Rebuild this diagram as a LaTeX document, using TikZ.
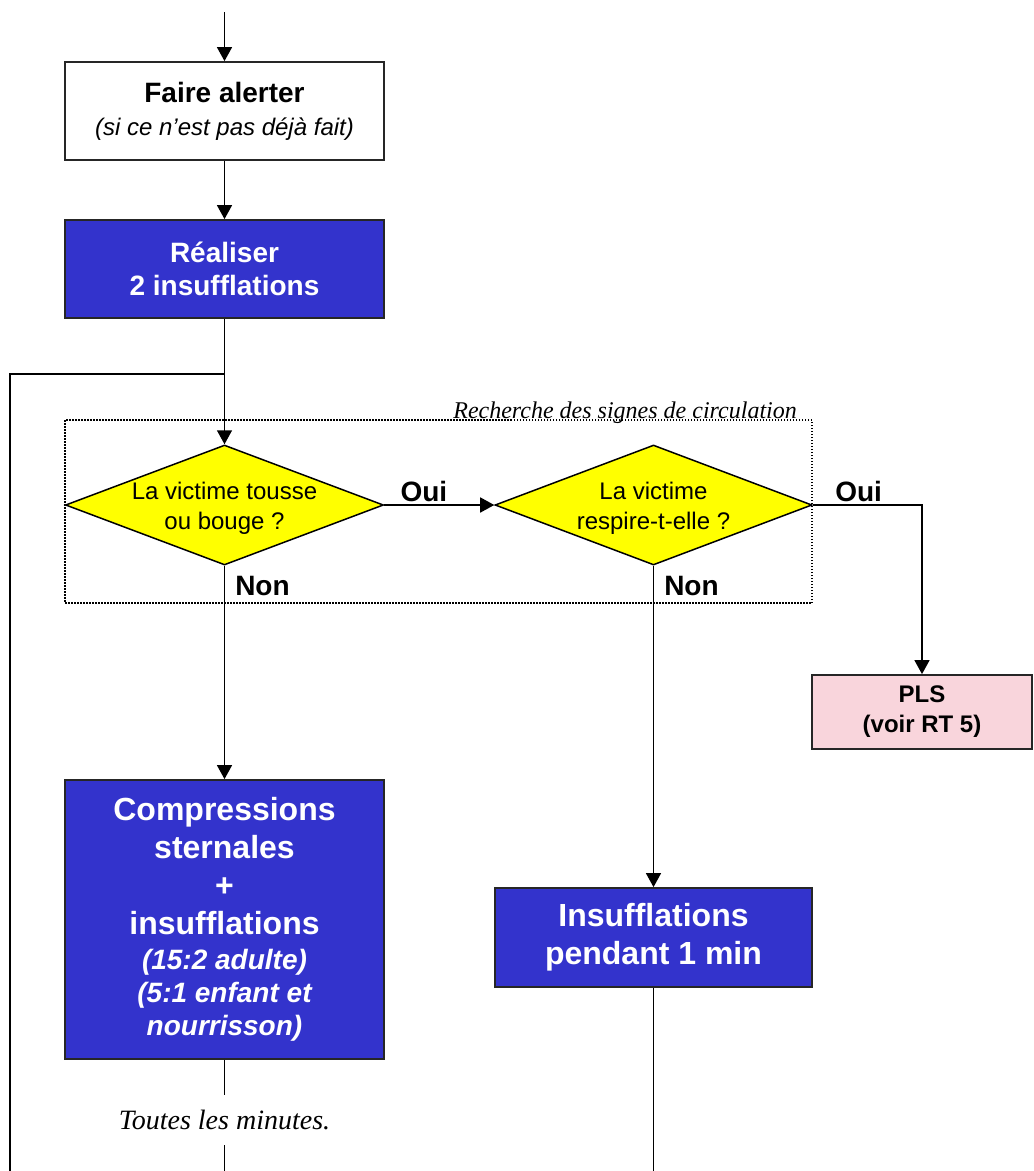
\documentclass[tikz,border=0pt]{standalone}
\usepackage{fontspec}
\setmainfont{Liberation Sans}
\newfontfamily\timesfont{Liberation Serif}
\usepackage{tikz}
\usetikzlibrary{shapes.geometric, arrows.meta, positioning}

\definecolor{bleuact}{RGB}{51,51,204}
\definecolor{jaunequest}{RGB}{255,255,0}
\definecolor{rosepls}{RGB}{249,213,220}
\newcommand{\detailtxt}[1]{{\itshape\fontsize{28}{34}\selectfont #1}}

\begin{document}
\begin{tikzpicture}[
        x=1pt, y=-1pt,
        actbox/.style={
            rectangle, draw=black!85, line width=1.8pt, fill=white,
            minimum width=319pt, minimum height=98pt,
            align=center, inner sep=0pt,
            font=\fontsize{28}{33}\selectfont\bfseries
        },
        bluebox/.style={actbox, fill=bleuact, text=white},
        question/.style={
            diamond, draw=black, line width=1.5pt, fill=jaunequest,
            minimum width=318pt, minimum height=120pt, inner sep=0pt
        },
        qtext/.style={align=center, font=\fontsize{24}{30}\selectfont},
        rep/.style={font=\fontsize{28}{34}\selectfont\bfseries, inner sep=2pt},
        fleche/.style={line width=1.5pt, -{Triangle[length=14pt, width=15pt]}},
        trait/.style={line width=1.5pt},
        comment/.style={font=\timesfont\itshape\fontsize{24}{28}\selectfont}
    ]
        \useasboundingbox (0,0) rectangle (1034,1171);

        % actions du haut
        \coordinate (debut) at (224.5,12);
        \node[actbox] (alerte) at (224.5,111) {
            Faire alerter\\
            {\mdseries\itshape\fontsize{24}{30}\selectfont (si ce n’est pas déjà fait)}
        };
        \node[bluebox] (insuf2) at (224.5,269) {Réaliser\\2 insufflations};

        % boucle de retour
        \coordinate (jonction) at (224.5,374);
        \coordinate (coinG) at (10,374);
        \coordinate (basG) at (10,1171);
        \draw[line width=2.5pt] (basG) -- (coinG) -- (jonction);

        % recherche des signes de circulation
        \draw[line width=1.2pt, dash pattern=on 1.5pt off 1.5pt] (65,420) rectangle (812,603);
        \node[comment, anchor=base east, inner sep=0pt] (recherche) at (797,418) {Recherche des signes de circulation};

        \node[question] (tousse) at (224.5,505) {};
        \node[qtext] (tousse-txt) at (224.5,508) {La victime tousse\\ou bouge ?};
        \node[question, minimum width=317pt] (respire) at (653.5,505) {};
        \node[qtext] (respire-txt) at (653.5,508) {La victime\\respire-t-elle ?};

        % issues
        \node[actbox, fill=rosepls, minimum width=220pt, minimum height=74pt,
            font=\fontsize{24}{30}\selectfont\bfseries] (pls) at (922,712) {PLS\\(voir RT 5)};
        \coordinate (coinD) at (922,505);

        \node[bluebox, minimum height=279pt, font=\fontsize{32}{38}\selectfont\bfseries] (compress) at (224.5,919.5) {
            Compressions\\sternales\\+\\insufflations\\[-3pt]
            \detailtxt{(15:2 adulte)}\\[-5pt]\detailtxt{(5:1 enfant et}\\[-5pt]\detailtxt{nourrisson)}
        };
        \node[bluebox, minimum width=317pt, minimum height=99pt,
            font=\fontsize{32}{38}\selectfont\bfseries] (insufmin) at (653.5,937.5) {Insufflations\\pendant 1 min};

        \node[comment, font=\timesfont\itshape\fontsize{28}{32}\selectfont,
            minimum height=50pt, inner sep=0pt] (toutes) at (224.5,1120) {Toutes les minutes.};
        \coordinate (basC) at (224.5,1171);
        \coordinate (basD) at (653.5,1171);

        % liaisons
        \draw[fleche] (debut) -- (alerte);
        \draw[fleche] (alerte) -- (insuf2);
        \draw[fleche] (insuf2) -- (tousse);
        \draw[fleche] (tousse) -- node[rep, pos=0.36, above] (oui1) {Oui} (respire);
        \draw[fleche] (respire.east) -- node[rep, pos=0.42, above] (oui2) {Oui} (coinD) -- (pls);
        \draw[fleche] (tousse) -- node[rep, pos=0.093, right=8pt] (non1) {Non} (compress);
        \draw[fleche] (respire) -- node[rep, pos=0.062, right=8pt] (non2) {Non} (insufmin);
        \draw[trait] (compress) -- (toutes);
        \draw[trait] (toutes) -- (basC);
        \draw[trait] (insufmin) -- (basD);
    \end{tikzpicture}
\end{document}
